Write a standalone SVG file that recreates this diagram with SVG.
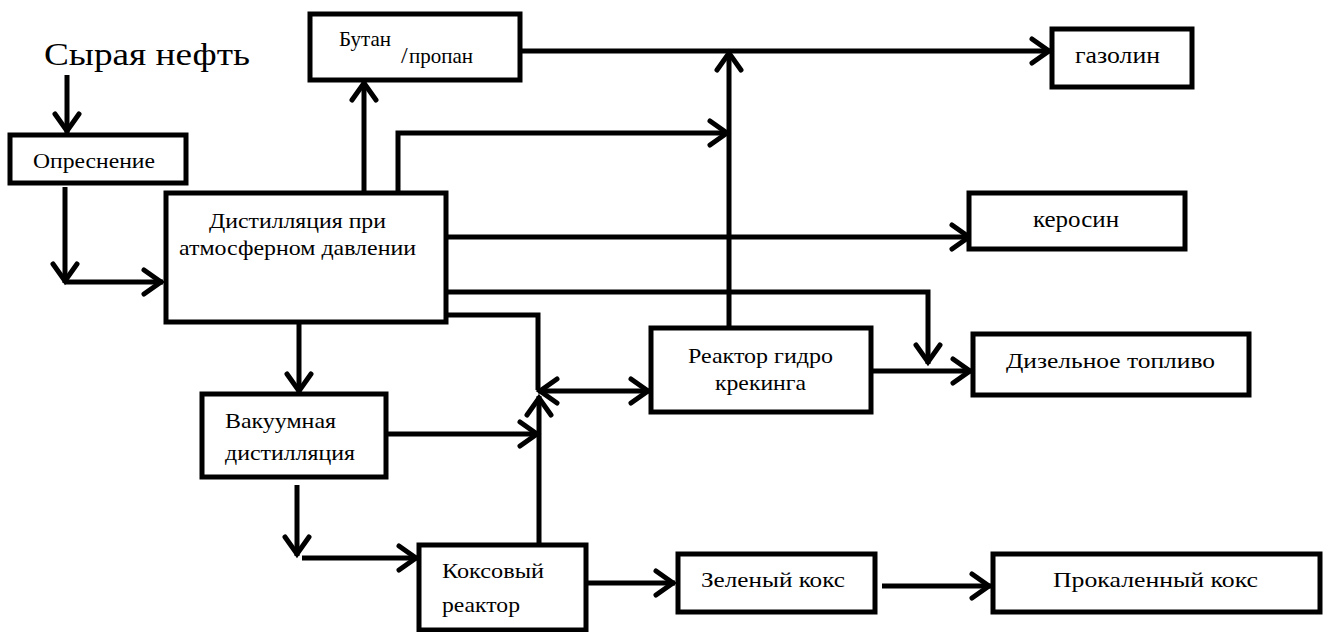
<svg xmlns="http://www.w3.org/2000/svg" width="1324" height="632" viewBox="0 0 1324 632">
<defs>
<marker id="ch" markerUnits="userSpaceOnUse" viewBox="-30 -20 40 40" markerWidth="40" markerHeight="40" refX="0" refY="0" orient="auto-start-reverse">
<path d="M-19,-12 L-2,0 L-19,12" fill="none" stroke="#000" stroke-width="5" stroke-linecap="round" stroke-linejoin="miter"/>
</marker>
</defs>
<rect width="1324" height="632" fill="#fff"/>
<g id="connectors" fill="none" stroke="#000" stroke-width="5" marker-end="url(#ch)">
<path d="M67,75 V133"/>
<path d="M65,187 V283"/>
<path d="M65,282 H163"/>
<path d="M364,193 V81"/>
<path d="M398,193 V133 H729"/>
<path d="M520,51 H1051"/>
<path d="M729,328 V51"/>
<path d="M446,237 H971"/>
<path d="M446,292 H928 V364"/>
<path d="M446,315 H538 V390" marker-end="none"/>
<path d="M538,391 H650" marker-start="url(#ch)"/>
<path d="M299,322 V393"/>
<path d="M386,434 H539"/>
<path d="M539,545 V396"/>
<path d="M297,485 V556"/>
<path d="M302,558 H418"/>
<path d="M871,371 H972"/>
<path d="M586,583 H675"/>
<path d="M882,586 H991"/>
</g>
<text id="crude" font-family="Liberation Serif" font-size="32" x="44" y="65" textLength="206" lengthAdjust="spacingAndGlyphs">Сырая нефть</text>
<g id="butan"><rect fill="#fff" stroke="#000" stroke-width="5" x="310" y="14" width="210" height="66"/>
<text font-family="Liberation Serif" font-size="21" x="339" y="46">Бутан</text><text font-family="Liberation Serif" font-size="24" x="401" y="63">/</text><text font-family="Liberation Serif" font-size="21" x="409" y="63">пропан</text></g>
<g id="gasoline"><rect fill="#fff" stroke="#000" stroke-width="5" x="1052" y="29" width="140" height="58"/>
<text font-family="Liberation Serif" font-size="24" x="1075" y="63" textLength="85" lengthAdjust="spacingAndGlyphs">газолин</text></g>
<g id="desalt"><rect fill="#fff" stroke="#000" stroke-width="5" x="10" y="135" width="176" height="48"/>
<text font-family="Liberation Serif" font-size="21" x="33" y="168" textLength="122" lengthAdjust="spacingAndGlyphs">Опреснение</text></g>
<g id="atm"><rect fill="#fff" stroke="#000" stroke-width="5" x="166" y="193" width="280" height="129"/>
<text font-family="Liberation Serif" font-size="22" x="209" y="228" textLength="177" lengthAdjust="spacingAndGlyphs">Дистилляция при</text>
<text font-family="Liberation Serif" font-size="22" x="179" y="255" textLength="237" lengthAdjust="spacingAndGlyphs">атмосферном давлении</text></g>
<g id="kerosene"><rect fill="#fff" stroke="#000" stroke-width="5" x="969" y="193" width="216" height="56"/>
<text font-family="Liberation Serif" font-size="24" x="1033" y="227" textLength="86" lengthAdjust="spacingAndGlyphs">керосин</text></g>
<g id="vacuum"><rect fill="#fff" stroke="#000" stroke-width="5" x="202" y="394" width="184" height="83"/>
<text font-family="Liberation Serif" font-size="22" x="225" y="428" textLength="111" lengthAdjust="spacingAndGlyphs">Вакуумная</text>
<text font-family="Liberation Serif" font-size="22" x="225" y="460" textLength="130" lengthAdjust="spacingAndGlyphs">дистилляция</text></g>
<g id="hydro"><rect fill="#fff" stroke="#000" stroke-width="5" x="651" y="328" width="220" height="84"/>
<text font-family="Liberation Serif" font-size="22" x="688" y="363" textLength="145" lengthAdjust="spacingAndGlyphs">Реактор гидро</text>
<text font-family="Liberation Serif" font-size="22" x="715" y="390" textLength="91" lengthAdjust="spacingAndGlyphs">крекинга</text></g>
<g id="diesel"><rect fill="#fff" stroke="#000" stroke-width="5" x="973" y="334" width="276" height="61"/>
<text font-family="Liberation Serif" font-size="22" x="1006" y="368" textLength="209" lengthAdjust="spacingAndGlyphs">Дизельное топливо</text></g>
<g id="coker"><rect fill="#fff" stroke="#000" stroke-width="5" x="419" y="545" width="167" height="85"/>
<text font-family="Liberation Serif" font-size="22" x="442" y="578" textLength="102" lengthAdjust="spacingAndGlyphs">Коксовый</text>
<text font-family="Liberation Serif" font-size="22" x="442" y="612" textLength="78" lengthAdjust="spacingAndGlyphs">реактор</text></g>
<g id="green"><rect fill="#fff" stroke="#000" stroke-width="5" x="678" y="554" width="197" height="58"/>
<text font-family="Liberation Serif" font-size="22" x="701" y="587" textLength="144" lengthAdjust="spacingAndGlyphs">Зеленый кокс</text></g>
<g id="calcined"><rect fill="#fff" stroke="#000" stroke-width="5" x="993" y="554" width="327" height="58"/>
<text font-family="Liberation Serif" font-size="22" x="1053" y="587" textLength="205" lengthAdjust="spacingAndGlyphs">Прокаленный кокс</text></g>
</svg>
